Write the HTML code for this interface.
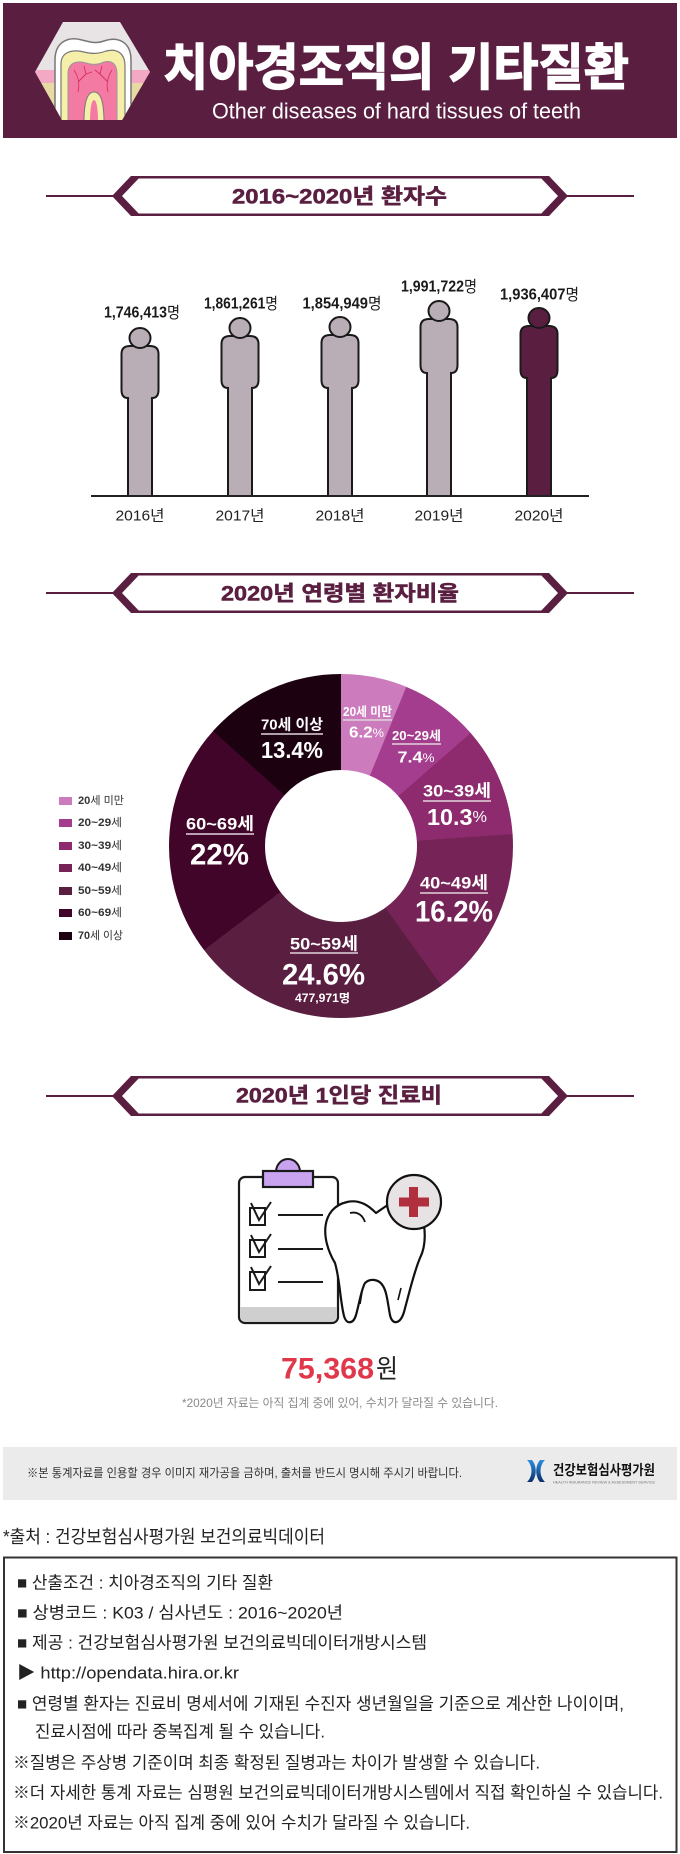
<!DOCTYPE html>
<html><head><meta charset="utf-8">
<style>
html,body{margin:0;padding:0;background:#fff;}
body{width:680px;height:1854px;overflow:hidden;}
svg{display:block;}
text{font-family:"Liberation Sans","Noto Sans CJK KR",sans-serif;dominant-baseline:central;}
</style></head>
<body>
<svg width="680" height="1854" viewBox="0 0 680 1854" xmlns="http://www.w3.org/2000/svg">
<defs>
<clipPath id="hex"><polygon points="63,22 120,22 150,72 122,120 62,120 35,72"/></clipPath>
<linearGradient id="lg" x1="0" y1="0" x2="0" y2="1"><stop offset="0" stop-color="#2a8ee0"/><stop offset="1" stop-color="#0b2f6b"/></linearGradient>
</defs>

<!-- HEADER -->
<rect x="3" y="3" width="674" height="135" fill="#5a1f40"/>
<g clip-path="url(#hex)">
  <rect x="30" y="18" width="125" height="54" fill="#e8e4e6"/>
  <rect x="30" y="70" width="125" height="13" fill="#f3a9c4"/>
  <rect x="30" y="83" width="125" height="40" fill="#e7dba3"/>
  <path d="M55,122 V60 C55,42 68,36 82,40 C90,42 96,44 104,41 C118,36 131,42 131,60 V122 Z" fill="#fff" stroke="#777" stroke-width="1.5"/>
  <path d="M61,122 V64 C61,52 72,49 84,52 C92,54 98,54 106,51 C118,48 125,54 125,66 V122 Z" fill="#f6efa9" stroke="#777" stroke-width="1.2"/>
  <path d="M68,122 V74 C68,63 76,60 86,63 C92,65 98,65 104,62 C112,60 117,64 117,74 V122 Z" fill="#f27aa3" stroke="#999" stroke-width="1"/>
  <path d="M84,122 C84,100 88,92 94,92 C100,92 104,100 104,122 Z" fill="#f6efa9" stroke="#777" stroke-width="1"/>
  <path d="M90,122 C90,106 92,100 94,100 C96,100 98,106 98,122 Z" fill="#f27aa3"/>
  <g stroke="#d8305e" stroke-width="0.9" fill="none">
    <path d="M78,92 C80,84 78,76 74,70 M78,82 L86,74 M86,74 L84,66 M86,74 L92,72"/>
    <path d="M108,92 C106,84 108,76 112,70 M108,82 L100,74 M100,74 L102,66 M100,74 L95,70"/>
  </g>
</g>
<text x="396" y="68" text-anchor="middle" font-size="50" font-weight="700" fill="#fff" stroke="#fff" stroke-width="1.3" textLength="466" lengthAdjust="spacingAndGlyphs">치아경조직의 기타질환</text>
<text x="396.5" y="111" text-anchor="middle" font-size="22" fill="#fff" textLength="369" lengthAdjust="spacingAndGlyphs">Other diseases of hard tissues of teeth</text>

<!-- BANNER 1 -->
<g fill="#5a1f40" stroke="none">
  <rect x="46" y="195" width="68" height="2"/><rect x="566" y="195" width="68" height="2"/>
  <rect x="132" y="176" width="416" height="2.5"/><rect x="132" y="213.5" width="416" height="2.5"/>
  <polygon points="131,176 112,196 131,216 141,216 122,196 141,176"/>
  <polygon points="549,176 568,196 549,216 539,216 558,196 539,176"/>
</g>
<text x="339.5" y="197" text-anchor="middle" font-size="21" font-weight="700" fill="#5a1f40" stroke="#5a1f40" stroke-width="0.5" textLength="215" lengthAdjust="spacingAndGlyphs">2016~2020년 환자수</text>

<!-- FIGURES -->
<g fill="#b9adb6" stroke="#1a1a1a" stroke-width="2">
  <path d="M128,496 V398 Q121.5,398 121.5,390 V354 Q121.5,346 130,346 H150 Q158.5,346 158.5,354 V390 Q158.5,398 152,398 V496 Z"/>
  <ellipse cx="140" cy="338" rx="10.5" ry="10"/>
  <path d="M228,496 V388 Q221.5,388 221.5,380 V344 Q221.5,336 230,336 H250 Q258.5,336 258.5,344 V380 Q258.5,388 252,388 V496 Z"/>
  <ellipse cx="240" cy="328" rx="10.5" ry="10"/>
  <path d="M328,496 V388 Q321.5,388 321.5,380 V343 Q321.5,335 330,335 H350 Q358.5,335 358.5,343 V380 Q358.5,388 352,388 V496 Z"/>
  <ellipse cx="340" cy="327" rx="10.5" ry="10"/>
  <path d="M427,496 V373 Q420.5,373 420.5,365 V327 Q420.5,319 429,319 H449 Q457.5,319 457.5,327 V365 Q457.5,373 451,373 V496 Z"/>
  <ellipse cx="439" cy="311" rx="10.5" ry="10"/>
</g>
<g fill="#5a1f40" stroke="#1a1a1a" stroke-width="2">
  <path d="M527,496 V378 Q520.5,378 520.5,370 V334 Q520.5,326 529,326 H549 Q557.5,326 557.5,334 V370 Q557.5,378 551,378 V496 Z"/>
  <ellipse cx="539" cy="318" rx="10.5" ry="10"/>
</g>
<line x1="91" y1="496" x2="589" y2="496" stroke="#222" stroke-width="2"/>
<g font-size="16" font-weight="700" fill="#1a1a1a" text-anchor="middle">
  <text x="142" y="313" textLength="76" lengthAdjust="spacingAndGlyphs">1,746,413<tspan font-weight="400">명</tspan></text>
  <text x="241" y="304" textLength="74" lengthAdjust="spacingAndGlyphs">1,861,261<tspan font-weight="400">명</tspan></text>
  <text x="342" y="304" textLength="79" lengthAdjust="spacingAndGlyphs">1,854,949<tspan font-weight="400">명</tspan></text>
  <text x="439" y="287" textLength="76" lengthAdjust="spacingAndGlyphs">1,991,722<tspan font-weight="400">명</tspan></text>
  <text x="539.5" y="295" textLength="79" lengthAdjust="spacingAndGlyphs">1,936,407<tspan font-weight="400">명</tspan></text>
</g>
<g font-size="15" fill="#222" text-anchor="middle">
  <text x="140" y="516" textLength="49" lengthAdjust="spacingAndGlyphs">2016년</text>
  <text x="240" y="516" textLength="49" lengthAdjust="spacingAndGlyphs">2017년</text>
  <text x="340" y="516" textLength="49" lengthAdjust="spacingAndGlyphs">2018년</text>
  <text x="439" y="516" textLength="49" lengthAdjust="spacingAndGlyphs">2019년</text>
  <text x="539" y="516" textLength="49" lengthAdjust="spacingAndGlyphs">2020년</text>
</g>

<!-- BANNER 2 -->
<g fill="#5a1f40" stroke="none">
  <rect x="46" y="592" width="68" height="2"/><rect x="566" y="592" width="68" height="2"/>
  <rect x="132" y="573" width="416" height="2.5"/><rect x="132" y="610.5" width="416" height="2.5"/>
  <polygon points="131,573 112,593 131,613 141,613 122,593 141,573"/>
  <polygon points="549,573 568,593 549,613 539,613 558,593 539,573"/>
</g>
<text x="340" y="594" text-anchor="middle" font-size="21" font-weight="700" fill="#5a1f40" stroke="#5a1f40" stroke-width="0.5" textLength="238" lengthAdjust="spacingAndGlyphs">2020년 연령별 환자비율</text>

<!-- DONUT -->
<g transform="rotate(-90 341 846)" fill="none" stroke-width="96">
  <circle cx="341" cy="846" r="124" stroke="#cc7bbd" stroke-dasharray="48.8 800" stroke-dashoffset="0"/>
  <circle cx="341" cy="846" r="124" stroke="#a53d8e" stroke-dasharray="58.1 800" stroke-dashoffset="-48.26"/>
  <circle cx="341" cy="846" r="124" stroke="#8d2b6e" stroke-dasharray="80.7 800" stroke-dashoffset="-105.86"/>
  <circle cx="341" cy="846" r="124" stroke="#762458" stroke-dasharray="126.6 800" stroke-dashoffset="-186.03"/>
  <circle cx="341" cy="846" r="124" stroke="#5a1e40" stroke-dasharray="192.0 800" stroke-dashoffset="-312.12"/>
  <circle cx="341" cy="846" r="124" stroke="#42052a" stroke-dasharray="171.7 800" stroke-dashoffset="-503.59"/>
  <circle cx="341" cy="846" r="124" stroke="#1c0210" stroke-dasharray="104.4 800" stroke-dashoffset="-674.82"/>
</g>
<g stroke="#e2d4dc" stroke-width="1.6">
  <line x1="343" y1="720" x2="392" y2="720"/>
  <line x1="392" y1="744" x2="441" y2="744"/>
  <line x1="261" y1="734" x2="323" y2="734"/>
  <line x1="423" y1="801" x2="491" y2="801"/>
  <line x1="420" y1="893" x2="488" y2="893"/>
  <line x1="186" y1="834" x2="254" y2="834"/>
  <line x1="290" y1="953" x2="358" y2="953"/>
</g>
<g fill="#fff" font-weight="700" text-anchor="middle">
  <text x="367.5" y="712" font-size="12.5" textLength="49" lengthAdjust="spacingAndGlyphs">20세 미만</text>
  <text x="366.5" y="733" font-size="16" textLength="35" lengthAdjust="spacingAndGlyphs">6.2<tspan font-size="12" font-weight="400">%</tspan></text>
  <text x="416.5" y="736" font-size="12.5" textLength="49" lengthAdjust="spacingAndGlyphs">20~29세</text>
  <text x="416" y="758" font-size="16" textLength="37" lengthAdjust="spacingAndGlyphs">7.4<tspan font-size="12" font-weight="400">%</tspan></text>
  <text x="292" y="725" font-size="15" textLength="62" lengthAdjust="spacingAndGlyphs">70세 이상</text>
  <text x="292" y="750" font-size="23" textLength="62" lengthAdjust="spacingAndGlyphs">13.4%</text>
  <text x="457" y="791" font-size="17" textLength="68" lengthAdjust="spacingAndGlyphs">30~39세</text>
  <text x="457" y="817" font-size="23" textLength="60" lengthAdjust="spacingAndGlyphs">10.3<tspan font-size="16" font-weight="400">%</tspan></text>
  <text x="454" y="883" font-size="17" textLength="68" lengthAdjust="spacingAndGlyphs">40~49세</text>
  <text x="454" y="912" font-size="30" textLength="78" lengthAdjust="spacingAndGlyphs">16.2%</text>
  <text x="220" y="824" font-size="17" textLength="68" lengthAdjust="spacingAndGlyphs">60~69세</text>
  <text x="219.5" y="855" font-size="30" textLength="59" lengthAdjust="spacingAndGlyphs">22%</text>
  <text x="324" y="944" font-size="17" textLength="68" lengthAdjust="spacingAndGlyphs">50~59세</text>
  <text x="323.5" y="975" font-size="30" textLength="83" lengthAdjust="spacingAndGlyphs">24.6%</text>
  <text x="322.5" y="999" font-size="11.5" textLength="55" lengthAdjust="spacingAndGlyphs">477,971명</text>
</g>

<!-- LEGEND -->
<g>
  <rect x="59" y="797" width="13" height="8" fill="#cc7bbd"/>
  <rect x="59" y="819" width="13" height="8" fill="#a53d8e"/>
  <rect x="59" y="842" width="13" height="8" fill="#8d2b6e"/>
  <rect x="59" y="864" width="13" height="8" fill="#762458"/>
  <rect x="59" y="887" width="13" height="8" fill="#5a1e40"/>
  <rect x="59" y="909" width="13" height="8" fill="#42052a"/>
  <rect x="59" y="932" width="13" height="8" fill="#1c0210"/>
</g>
<g font-size="11" fill="#333" font-weight="700">
  <text x="78" y="801" textLength="46" lengthAdjust="spacingAndGlyphs">20<tspan font-weight="400">세 미만</tspan></text>
  <text x="78" y="823" textLength="44" lengthAdjust="spacingAndGlyphs">20~29<tspan font-weight="400">세</tspan></text>
  <text x="78" y="846" textLength="44" lengthAdjust="spacingAndGlyphs">30~39<tspan font-weight="400">세</tspan></text>
  <text x="78" y="868" textLength="44" lengthAdjust="spacingAndGlyphs">40~49<tspan font-weight="400">세</tspan></text>
  <text x="78" y="891" textLength="44" lengthAdjust="spacingAndGlyphs">50~59<tspan font-weight="400">세</tspan></text>
  <text x="78" y="913" textLength="44" lengthAdjust="spacingAndGlyphs">60~69<tspan font-weight="400">세</tspan></text>
  <text x="78" y="936" textLength="45" lengthAdjust="spacingAndGlyphs">70<tspan font-weight="400">세 이상</tspan></text>
</g>

<!-- BANNER 3 -->
<g fill="#5a1f40" stroke="none">
  <rect x="46" y="1095" width="68" height="2"/><rect x="566" y="1095" width="68" height="2"/>
  <rect x="132" y="1076" width="416" height="2.5"/><rect x="132" y="1113.5" width="416" height="2.5"/>
  <polygon points="131,1076 112,1096 131,1116 141,1116 122,1096 141,1076"/>
  <polygon points="549,1076 568,1096 549,1116 539,1116 558,1096 539,1076"/>
</g>
<text x="339" y="1096" text-anchor="middle" font-size="21" font-weight="700" fill="#5a1f40" stroke="#5a1f40" stroke-width="0.5" textLength="206" lengthAdjust="spacingAndGlyphs">2020년 1인당 진료비</text>

<!-- CLIPBOARD -->
<rect x="239" y="1177" width="99" height="146" rx="6" fill="#fff" stroke="#1a1a1a" stroke-width="2.2"/>
<path d="M240.5,1307 H336.5 V1316 Q336.5,1321.5 331,1321.5 H246 Q240.5,1321.5 240.5,1316 Z" fill="#cfcfcf"/>
<path d="M276,1172 A12,13 0 0 1 300,1172 Z" fill="#c9a3f0" stroke="#1a1a1a" stroke-width="2"/>
<rect x="263" y="1171" width="50" height="16" fill="#c9a3f0" stroke="#1a1a1a" stroke-width="2.2"/>
<g fill="none" stroke="#1a1a1a" stroke-width="2">
  <rect x="250" y="1208" width="15" height="17"/>
  <polyline points="251,1203 259,1220 271,1202"/>
  <rect x="250" y="1240" width="15" height="17"/>
  <polyline points="251,1235 259,1252 271,1234"/>
  <rect x="250" y="1272" width="15" height="18"/>
  <polyline points="251,1267 259,1284 271,1266"/>
  <line x1="278" y1="1215" x2="323" y2="1215"/>
  <line x1="278" y1="1249" x2="323" y2="1249"/>
  <line x1="278" y1="1282" x2="323" y2="1282"/>
</g>
<!-- TOOTH -->
<path d="M335,1263 C320,1238 321,1208 347,1202 C360,1199 369,1206 376,1213 L395,1200 L424,1225 C426,1240 424,1250 420,1258 C414,1272 410,1290 404,1312 C400,1325 392,1325 390,1315 C388,1305 387,1292 383,1286 C379,1279 370,1278 365,1283 C361,1290 359,1305 356,1315 C353,1325 346,1324 344,1316 C340,1300 340,1280 335,1263 Z" fill="#fff" stroke="#111" stroke-width="2.2" stroke-linejoin="round"/>
<path d="M350,1213 C358,1211 363,1216 365,1222" fill="none" stroke="#111" stroke-width="1.8"/>
<path d="M360,1304 L362,1292 M398,1300 L401,1288" fill="none" stroke="#111" stroke-width="1.6"/>
<circle cx="414" cy="1202" r="27" fill="#e7e3e4" stroke="#111" stroke-width="2.2"/>
<rect x="409" y="1187" width="9" height="30" fill="#b0303e"/>
<rect x="399" y="1197.5" width="30" height="9" fill="#b0303e"/>

<text x="281" y="1369" font-size="30" font-weight="700" fill="#e0384a" textLength="93" lengthAdjust="spacingAndGlyphs">75,368</text>
<text x="376" y="1369" font-size="26" fill="#222" textLength="22" lengthAdjust="spacingAndGlyphs">원</text>
<text x="182" y="1403" font-size="12" fill="#8a8a8a" textLength="316" lengthAdjust="spacingAndGlyphs">*2020년 자료는 아직 집계 중에 있어, 수치가 달라질 수 있습니다.</text>

<!-- GRAY NOTICE -->
<rect x="3" y="1447" width="674" height="53" fill="#ebebeb"/>
<text x="27" y="1473" font-size="12" fill="#333" textLength="435" lengthAdjust="spacingAndGlyphs">※본 통계자료를 인용할 경우 이미지 재가공을 금하며, 출처를 반드시 명시해 주시기 바랍니다.</text>
<path d="M527,1460 C533,1466 533,1476 527,1482 L532,1482 C537,1476 537,1466 532,1460 Z M545,1460 C539,1466 539,1476 545,1482 L540,1482 C535,1476 535,1466 540,1460 Z" fill="url(#lg)"/>
<text x="553" y="1470" font-size="14" font-weight="700" fill="#111" textLength="102" lengthAdjust="spacingAndGlyphs">건강보험심사평가원</text>
<text x="553" y="1482" font-size="4" fill="#777" textLength="102" lengthAdjust="spacingAndGlyphs">HEALTH INSURANCE REVIEW &amp; ASSESSMENT SERVICE</text>

<!-- SOURCE -->
<text x="3" y="1537" font-size="18" fill="#222" textLength="322" lengthAdjust="spacingAndGlyphs">*출처 : 건강보험심사평가원 보건의료빅데이터</text>
<rect x="4" y="1557.5" width="672.5" height="294.5" fill="none" stroke="#333" stroke-width="2"/>
<g font-size="17" fill="#222">
  <text x="17" y="1583" textLength="256" lengthAdjust="spacingAndGlyphs">■ 산출조건 : 치아경조직의 기타 질환</text>
  <text x="17" y="1613" textLength="326" lengthAdjust="spacingAndGlyphs">■ 상병코드 : K03 / 심사년도 : 2016~2020년</text>
  <text x="17" y="1643" textLength="410" lengthAdjust="spacingAndGlyphs">■ 제공 : 건강보험심사평가원 보건의료빅데이터개방시스템</text>
  <text x="17" y="1673" textLength="222" lengthAdjust="spacingAndGlyphs">▶ http://opendata.hira.or.kr</text>
  <text x="17" y="1704" textLength="607" lengthAdjust="spacingAndGlyphs">■ 연령별 환자는 진료비 명세서에 기재된 수진자 생년월일을 기준으로 계산한 나이이며,</text>
  <text x="35" y="1732" textLength="290" lengthAdjust="spacingAndGlyphs">진료시점에 따라 중복집계 될 수 있습니다.</text>
  <text x="13" y="1763" textLength="527" lengthAdjust="spacingAndGlyphs">※질병은 주상병 기준이며 최종 확정된 질병과는 차이가 발생할 수 있습니다.</text>
  <text x="13" y="1793" textLength="650" lengthAdjust="spacingAndGlyphs">※더 자세한 통계 자료는 심평원 보건의료빅데이터개방시스템에서 직접 확인하실 수 있습니다.</text>
  <text x="13" y="1823" textLength="457" lengthAdjust="spacingAndGlyphs">※2020년 자료는 아직 집계 중에 있어 수치가 달라질 수 있습니다.</text>
</g>
</svg>
</body></html>
